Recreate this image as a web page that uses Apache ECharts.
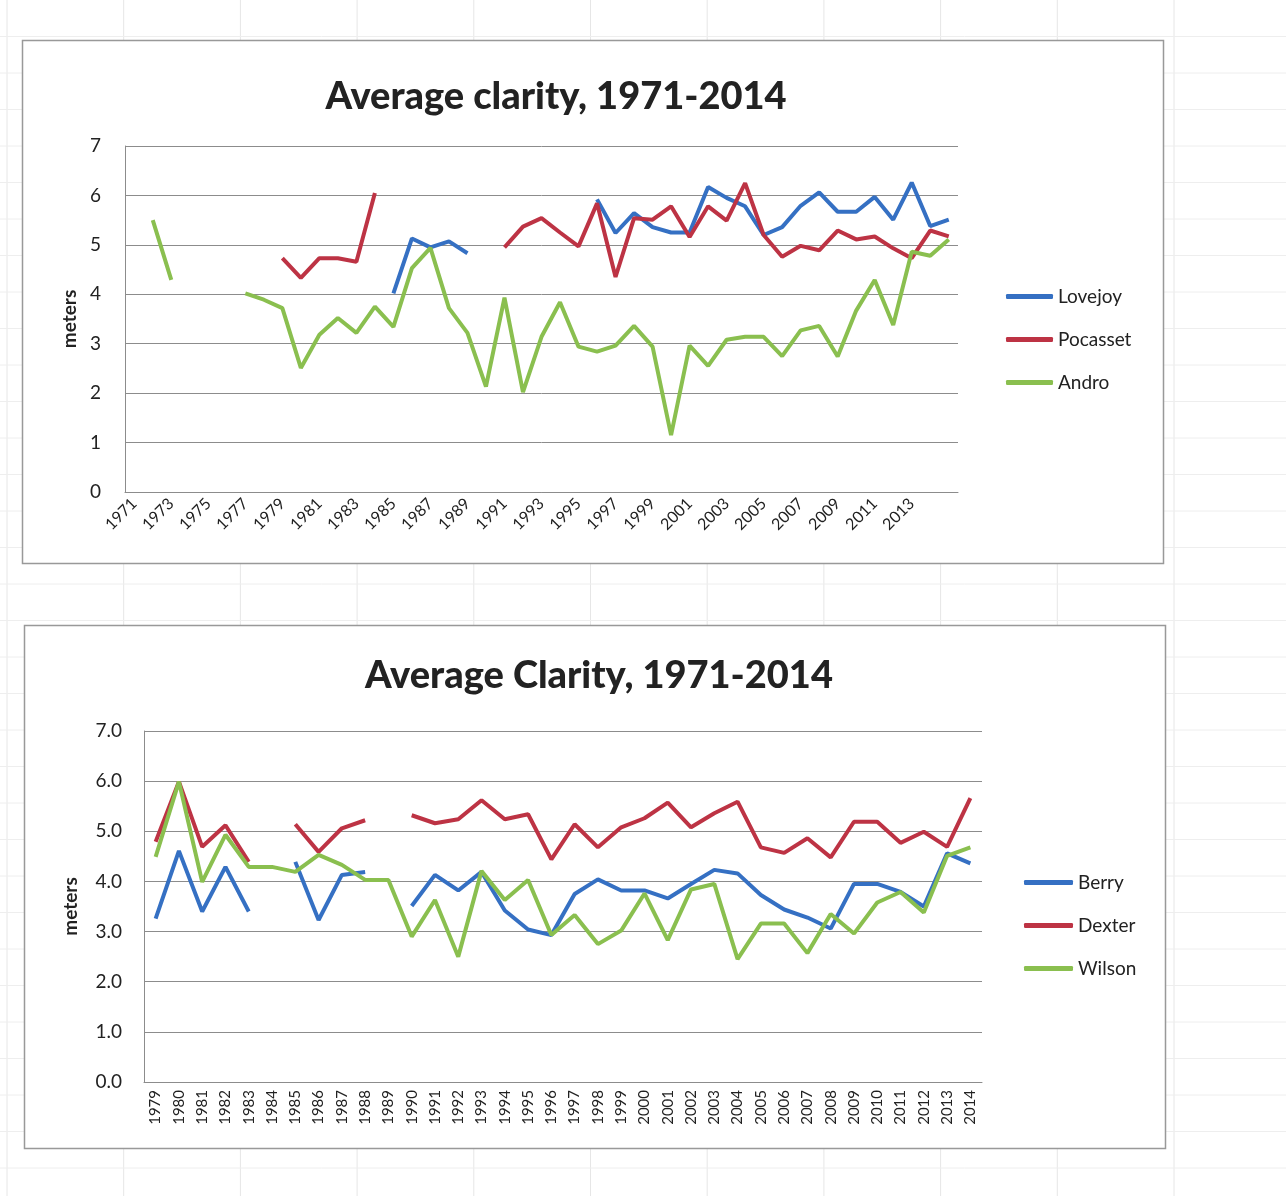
<!DOCTYPE html>
<html style="height: 100%">
<head>
    <meta charset="utf-8">
</head>
<body style="height: 100%; margin: 0; background: #fff">
    <div id="container" style="width: 1286px; height: 1196px;"></div>
    <script type="text/javascript" src="https://cdn.jsdelivr.net/npm/echarts@6/dist/echarts.min.js"></script>
    <script type="text/javascript">
        // top chart: 1971-2014 (+ one blank slot at the end, as in the sheet)
        var yearsTop = [];
        for (var y = 1971; y <= 2014; y++) yearsTop.push(String(y));
        yearsTop.push('');

        var lovejoy = [null, null, null, null, null, null, null, null, null, null, null, null, null, null,
            4.02, 5.13, 4.95, 5.07, 4.83, null, null, null, null, null, null,
            5.92, 5.24, 5.64, 5.36, 5.25, 5.25, 6.17, 5.95, 5.78, 5.2, 5.36, 5.79, 6.06, 5.67, 5.67, 5.97, 5.51, 6.26, 5.38, 5.51];
        var pocasset = [null, null, null, null, null, null, null, null,
            4.73, 4.33, 4.73, 4.73, 4.66, 6.05, null, null, null, null, null, null,
            4.95, 5.37, 5.54, 5.25, 4.97, 5.84, 4.35, 5.54, 5.51, 5.78, 5.16, 5.78, 5.49, 6.25, 5.2, 4.76, 4.98, 4.89, 5.29, 5.11, 5.17, 4.93, 4.73, 5.29, 5.17];
        var andro = [null, 5.5, 4.29, null, null, null,
            4.02, 3.89, 3.72, 2.51, 3.18, 3.52, 3.22, 3.75, 3.34, 4.53, 4.94, 3.72, 3.22, 2.13, 3.93, 2.02,
            3.14, 3.84, 2.94, 2.84, 2.96, 3.36, 2.94, 1.15, 2.96, 2.55, 3.08, 3.14, 3.14, 2.75, 3.27, 3.36, 2.74, 3.67, 4.29, 3.38, 4.86, 4.78, 5.11];

        // bottom chart: 1979-2014
        var yearsBottom = [];
        for (var y2 = 1979; y2 <= 2014; y2++) yearsBottom.push(String(y2));

        var berry = [3.26, 4.61, 3.40, 4.29, 3.40, null, 4.39, 3.23, 4.13, 4.19, null,
            3.51, 4.13, 3.82, 4.19, 3.42, 3.04, 2.93, 3.75, 4.04, 3.82, 3.82, 3.66, 3.95, 4.23, 4.16, 3.73, 3.44, 3.28, 3.06, 3.95, 3.95, 3.79, 3.50, 4.56, 4.36];
        var dexter = [4.79, 5.99, 4.69, 5.12, 4.39, null, 5.14, 4.59, 5.06, 5.22, null,
            5.32, 5.16, 5.24, 5.62, 5.24, 5.34, 4.44, 5.14, 4.68, 5.08, 5.26, 5.57, 5.08, 5.36, 5.59, 4.68, 4.57, 4.86, 4.48, 5.19, 5.19, 4.77, 4.99, 4.69, 5.66];
        var wilson = [4.49, 5.99, 3.99, 4.93, 4.29, 4.29, 4.19, 4.53, 4.33, 4.03, 4.03,
            2.90, 3.63, 2.50, 4.21, 3.63, 4.03, 2.93, 3.33, 2.75, 3.02, 3.76, 2.83, 3.84, 3.95, 2.45, 3.16, 3.16, 2.57, 3.35, 2.96, 3.58, 3.79, 3.38, 4.51, 4.68];

        var blue = '#3570c3', red = '#bd3344', green = '#8abf4f';
        var font = 'Lato, "Open Sans", sans-serif';

        // faint spreadsheet cells behind the two chart boxes
        var sheet = [];
        for (var cx = 7; cx < 1286; cx += 116.7) {
            sheet.push({ type: 'line', z: -20, silent: true, shape: { x1: cx, y1: 0, x2: cx, y2: 1196 }, style: { stroke: '#e6e6e6', lineWidth: 1 } });
        }
        for (var ry = 36.5; ry < 1196; ry += 36.5) {
            sheet.push({ type: 'line', z: -20, silent: true, shape: { x1: 0, y1: ry, x2: 1286, y2: ry }, style: { stroke: '#eeeeee', lineWidth: 1 } });
        }
        sheet.push({ type: 'rect', z: -10, silent: true, shape: { x: 22.5, y: 40.5, width: 1141, height: 523 }, style: { fill: '#fff', stroke: '#999', lineWidth: 1.5 } });
        sheet.push({ type: 'rect', z: -10, silent: true, shape: { x: 24.5, y: 625.5, width: 1141, height: 523 }, style: { fill: '#fff', stroke: '#999', lineWidth: 1.5 } });

        function lineSeries(name, data, color, idx) {
            return {
                name: name,
                type: 'line',
                xAxisIndex: idx,
                yAxisIndex: idx,
                data: data,
                showSymbol: false,
                connectNulls: false,
                lineStyle: { width: 4, color: color },
                itemStyle: { color: color }
            };
        }

        var dom = document.getElementById("container");
        var myChart = echarts.init(dom);
        var option = {
            backgroundColor: '#fff',
            animation: false,
            graphic: sheet,
            title: [
                { text: 'Average clarity, 1971-2014', left: 551, top: 73, textAlign: 'center',
                  textStyle: { fontFamily: font, fontWeight: 900, fontSize: 38, color: '#222' } },
                { text: 'Average Clarity, 1971-2014', left: 594, top: 652, textAlign: 'center',
                  textStyle: { fontFamily: font, fontWeight: 900, fontSize: 38, color: '#222' } }
            ],
            legend: [
                { data: ['Lovejoy', 'Pocasset', 'Andro'], orient: 'vertical', left: 1001, top: 282,
                  icon: 'roundRect', itemWidth: 47, itemHeight: 5, itemGap: 24,
                  textStyle: { fontFamily: font, fontSize: 19, color: '#222' } },
                { data: ['Berry', 'Dexter', 'Wilson'], orient: 'vertical', left: 1019, top: 868,
                  icon: 'roundRect', itemWidth: 49, itemHeight: 5, itemGap: 24,
                  textStyle: { fontFamily: font, fontSize: 19, color: '#222' } }
            ],
            grid: [
                { left: 125, right: 328, top: 146, bottom: 704 },
                { left: 144, right: 304, top: 731, bottom: 114 }
            ],
            xAxis: [
                { type: 'category', gridIndex: 0, data: yearsTop, boundaryGap: true,
                  axisLine: { lineStyle: { color: '#8c8c8c', width: 1 } },
                  axisTick: { show: false },
                  axisLabel: { interval: 1, rotate: 45, margin: 9, fontFamily: font, fontSize: 16, color: '#222' } },
                { type: 'category', gridIndex: 1, data: yearsBottom, boundaryGap: true,
                  axisLine: { lineStyle: { color: '#8c8c8c', width: 1 } },
                  axisTick: { show: false },
                  axisLabel: { interval: 0, rotate: 90, margin: 8, fontFamily: font, fontSize: 15, color: '#222' } }
            ],
            yAxis: [
                { type: 'value', gridIndex: 0, min: 0, max: 7, interval: 1,
                  name: 'meters', nameLocation: 'middle', nameGap: 46,
                  nameTextStyle: { fontFamily: font, fontWeight: 'bold', fontSize: 19, color: '#222' },
                  axisLine: { show: true, lineStyle: { color: '#8c8c8c', width: 1 } },
                  axisTick: { show: false },
                  splitLine: { lineStyle: { color: '#8c8c8c', width: 1 } },
                  axisLabel: { margin: 24, fontFamily: font, fontSize: 19, color: '#222' } },
                { type: 'value', gridIndex: 1, min: 0, max: 7, interval: 1,
                  name: 'meters', nameLocation: 'middle', nameGap: 64,
                  nameTextStyle: { fontFamily: font, fontWeight: 'bold', fontSize: 19, color: '#222' },
                  axisLine: { show: true, lineStyle: { color: '#8c8c8c', width: 1 } },
                  axisTick: { show: false },
                  splitLine: { lineStyle: { color: '#8c8c8c', width: 1 } },
                  axisLabel: { margin: 22, fontFamily: font, fontSize: 19, color: '#222',
                               formatter: function (v) { return v.toFixed(1); } } }
            ],
            series: [
                lineSeries('Lovejoy', lovejoy, blue, 0),
                lineSeries('Pocasset', pocasset, red, 0),
                lineSeries('Andro', andro, green, 0),
                lineSeries('Berry', berry, blue, 1),
                lineSeries('Dexter', dexter, red, 1),
                lineSeries('Wilson', wilson, green, 1)
            ]
        };
        myChart.setOption(option, true);
    </script>
</body>
</html>
